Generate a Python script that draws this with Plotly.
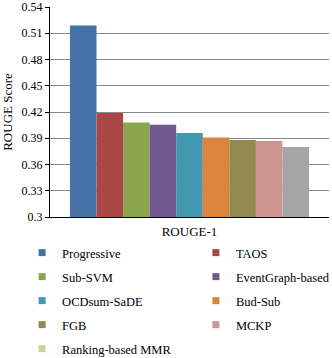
import plotly.graph_objects as go

methods = ["Progressive", "TAOS", "Sub-SVM", "EventGraph-based", "OCDsum-SaDE",
           "Bud-Sub", "FGB", "MCKP", "Ranking-based MMR"]
scores = [0.519, 0.419, 0.408, 0.4055, 0.396, 0.391, 0.388, 0.387, 0.380]
bar_colors = ["#4572a7", "#aa4643", "#89a54e", "#71588f", "#4198af",
              "#db843d", "#938953", "#d09493", "#a5a5a5"]
legend_colors = ["#4572a7", "#aa4643", "#89a54e", "#71588f", "#4198af",
                 "#db843d", "#938953", "#d09493", "#c3d69b"]
category = ["ROUGE-1"]
y_ticks = [0.3, 0.33, 0.36, 0.39, 0.42, 0.45, 0.48, 0.51, 0.54]
y_tick_labels = ["0.3", "0.33", "0.36", "0.39", "0.42", "0.45", "0.48", "0.51", "0.54"]

FONT = "Liberation Serif, Times New Roman, serif"

fig = go.Figure()
# bars
for i, (m, s) in enumerate(zip(methods, scores)):
    fig.add_trace(go.Bar(
        x=category, y=[s], name=m,
        marker=dict(color=bar_colors[i], line=dict(width=0)),
        showlegend=False,
    ))
# legend entries (small square swatches, two columns)
for i, m in enumerate(methods):
    fig.add_trace(go.Scatter(
        x=[None], y=[None], name=m, mode="markers",
        marker=dict(symbol="square", size=7, color=legend_colors[i]),
        legend="legend" if i % 2 == 0 else "legend2",
        legendgroup=m, showlegend=True,
    ))

leg_common = dict(xref="paper", yref="paper", xanchor="left", yanchor="top",
                  orientation="v", tracegroupgap=4.75, itemsizing="trace",
                  font=dict(family=FONT, size=12.5),
                  bgcolor="rgba(0,0,0,0)", borderwidth=0)

fig.update_layout(
    template="none",
    width=332, height=358,
    margin=dict(l=50, r=3, t=7, b=141, autoexpand=False),
    paper_bgcolor="white", plot_bgcolor="white",
    font=dict(family=FONT, size=12, color="black"),
    barmode="group", bargap=0.143, bargroupgap=0,
    showlegend=True,
    legend=dict(x=-0.1, y=-0.1, **leg_common),
    legend2=dict(x=0.523, y=-0.1, **leg_common),
    xaxis=dict(showline=True, linecolor="black", linewidth=1, automargin=False,
               showgrid=False, zeroline=False,
               tickfont=dict(family=FONT, size=13), ticks="",
               ticklabelstandoff=2),
    yaxis=dict(range=[0.3, 0.54], tickvals=y_ticks, ticktext=y_tick_labels,
               automargin=False, zeroline=False,
               showline=True, linecolor="black", linewidth=1,
               ticks="outside", ticklen=4, tickcolor="black",
               showgrid=True, gridcolor="#888888", gridwidth=1,
               tickfont=dict(family=FONT, size=12),
               title=dict(text="ROUGE Score", font=dict(family=FONT, size=13), standoff=9)),
)

fig.write_html("out.html",
               config={"displayModeBar": False},
               post_script="document.body.style.margin='0px';"
                           "document.documentElement.style.overflow='hidden';")
